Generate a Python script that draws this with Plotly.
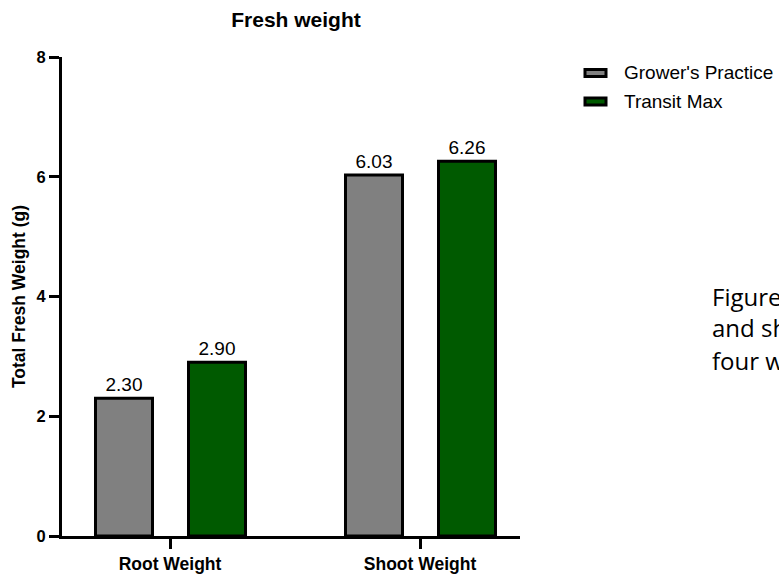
import plotly.graph_objects as go

# Data
categories = ["Root Weight", "Shoot Weight"]
series_names = ["Grower's Practice", "Transit Max"]
grower_values = [2.30, 6.03]
transit_values = [2.90, 6.26]
y_ticks = [0, 2, 4, 6, 8]
caption_lines = ["Figure 2. Total fresh root", "and shoot weight after", "four weeks of treatment."]

GRAY = "#808080"
GREEN = "#005A00"
FONT = "Liberation Sans, Arial, sans-serif"

W, H = 779, 577
ML, MR, MT, MB = 62, 259, 57, 41

x_pos = list(range(len(categories)))

fig = go.Figure()
for name, vals, color, off in [
    (series_names[0], grower_values, GRAY, -0.298),
    (series_names[1], transit_values, GREEN, 0.074),
]:
    fig.add_trace(go.Bar(
        x=x_pos, y=vals, name=name,
        offset=off, width=0.228,
        marker=dict(color=color, line=dict(color="black", width=3)),
        texttemplate="%{y:.2f}", textposition="outside",
        textfont=dict(family=FONT, size=19, color="black"),
        constraintext="none", cliponaxis=False,
        showlegend=False,
    ))

# pixel -> paper helpers for the legend and caption
pw, ph = W - ML - MR, H - MT - MB
def px_x(x):
    return (x - ML) / pw
def px_y(y):
    return (H - MB - y) / ph

# Legend drawn as swatches + labels
shapes = []
annotations = []
for i, (name, color) in enumerate(zip(series_names, [GRAY, GREEN])):
    cy = 73 + i * 28.5
    shapes.append(dict(
        type="rect", xref="paper", yref="paper",
        x0=px_x(585), x1=px_x(606), y0=px_y(cy - 3.5), y1=px_y(cy + 3.5),
        fillcolor=color, line=dict(color="black", width=3),
    ))
    annotations.append(dict(
        xref="paper", yref="paper", x=px_x(622), y=px_y(cy),
        xanchor="left", yanchor="middle", text=name, showarrow=False,
        font=dict(family=FONT, size=19, color="black"),
    ))

# Caption text beside the chart
for i, line in enumerate(caption_lines):
    annotations.append(dict(
        xref="paper", yref="paper", x=px_x(710), y=px_y(296 + i * 32),
        xanchor="left", yanchor="middle", text=line, showarrow=False,
        font=dict(family="Open Sans, sans-serif", size=24, color="black"),
    ))

fig.update_layout(
    width=W, height=H,
    margin=dict(l=ML, r=MR, t=MT, b=MB),
    paper_bgcolor="white", plot_bgcolor="white",
    barmode="overlay",
    title=dict(text="Fresh weight", x=px_x(296), xref="paper", xanchor="center",
               y=1 - 20 / H, yref="container", yanchor="middle",
               font=dict(family=FONT, size=21, color="black", weight="bold")),
    xaxis=dict(
        range=[-0.432, 1.4], tickmode="array", tickvals=x_pos, ticktext=categories,
        showline=True, linewidth=3, linecolor="black",
        ticks="outside", ticklen=10, tickwidth=3, tickcolor="black",
        showgrid=False, zeroline=False, automargin=False,
        tickfont=dict(family=FONT, size=17.5, color="black", weight="bold"),
    ),
    yaxis=dict(
        range=[0, 8], tickmode="array", tickvals=y_ticks,
        showline=True, linewidth=3, linecolor="black",
        ticks="outside", ticklen=10, tickwidth=3, tickcolor="black",
        showgrid=False, zeroline=False, automargin=False,
        tickfont=dict(family=FONT, size=16.5, color="black", weight="bold"),
        title=dict(text="Total Fresh Weight (g)", standoff=7,
                   font=dict(family=FONT, size=17.5, color="black", weight="bold")),
    ),
    shapes=shapes,
    annotations=annotations,
)

fig.write_html("out.html")
